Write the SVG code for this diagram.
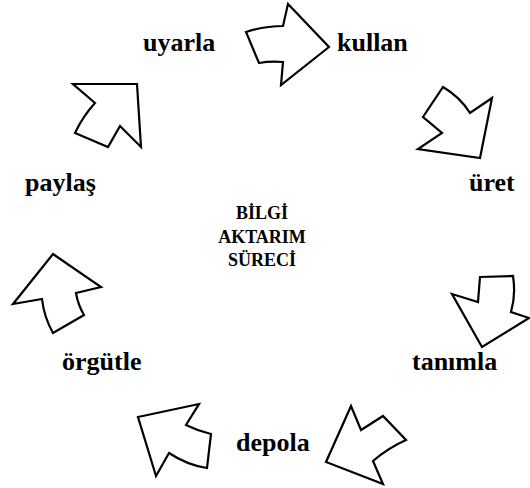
<svg xmlns="http://www.w3.org/2000/svg" width="530" height="488" viewBox="0 0 530 488">
<style>
.a{fill:#fff;stroke:#000;stroke-width:2.2;stroke-linejoin:miter}
.l{font-family:"Liberation Serif","Times New Roman",serif;font-weight:bold;font-size:26px;fill:#000}
.c{font-family:"Liberation Serif","Times New Roman",serif;font-weight:bold;font-size:18px;fill:#000;text-anchor:middle}
</style>
<rect width="530" height="488" fill="#fff"/>
<g id="connectors">
<path class="a" d="M246,32 Q265,26 283,26 L288,4 L329,47 L281,85 L283,62 Q270,61 259,63 Z"/>
<path class="a" d="M443,87 Q460,97 470,113 L492,98 L480,158 L418,149 L442,133 L423,117 Z"/>
<path class="a" d="M480,277 L513,276 Q516,295 511,312 L529,318 L482,347 L452,294 L478,302 Z"/>
<path class="a" d="M351,406 L361,430 L383,416 L406,440 Q388,448 373,461 L383,484 L326,462 Z"/>
<path class="a" d="M138,417 L199,404 L186,425 Q198,431 211,434 L207,468 Q187,465 169,453 L156,476 Z"/>
<path class="a" d="M53,254 L101,287 L76,293 Q78,305 84,315 L53,333 Q44,317 42,299 L13,304 Z"/>
<path class="a" d="M73,84 L137,84 L141,147 L120,126 L108,147 L75,133 Q83,116 95,103 Z"/>
</g>
<g id="n-uyarla"><text class="l" x="143" y="51">uyarla</text></g>
<g id="n-kullan"><text class="l" x="337" y="51">kullan</text></g>
<g id="n-uret"><text class="l" x="469" y="191">üret</text></g>
<g id="n-tanimla"><text class="l" x="412" y="370">tanımla</text></g>
<g id="n-depola"><text class="l" x="236" y="451">depola</text></g>
<g id="n-orgutle"><text class="l" x="62" y="370">örgütle</text></g>
<g id="n-paylas"><text class="l" x="25" y="191">paylaş</text></g>
<g id="n-center"><text class="c" x="262" y="219">BİLGİ</text><text class="c" x="262" y="243">AKTARIM</text><text class="c" x="262" y="266">SÜRECİ</text></g>
</svg>
